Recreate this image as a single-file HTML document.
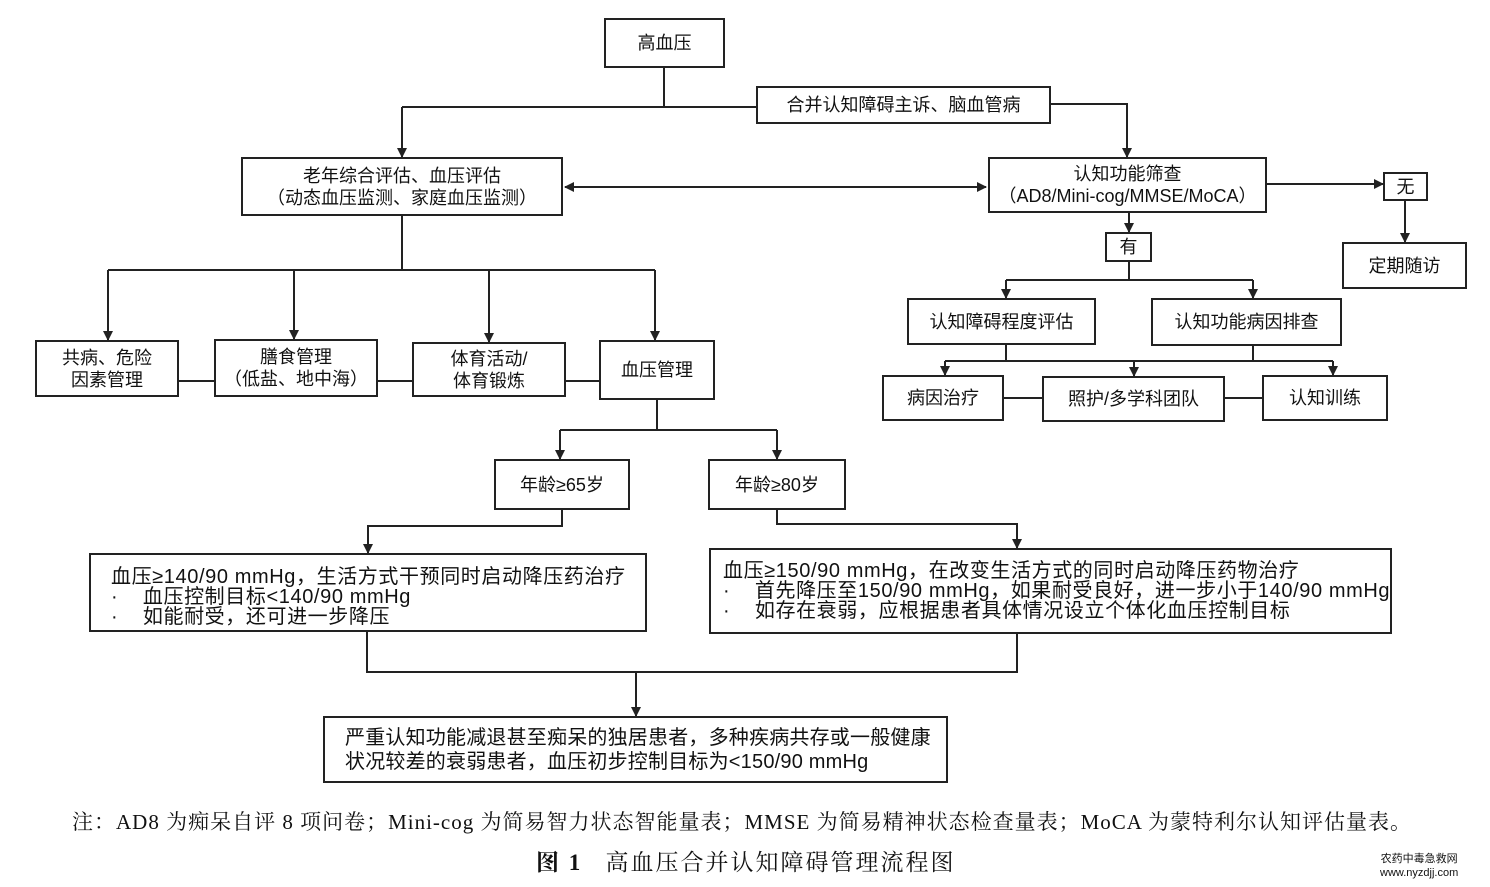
<!DOCTYPE html>
<html><head><meta charset="utf-8"><style>
body{margin:0;width:1490px;height:887px;background:#fff;position:relative;overflow:hidden;font-family:"Liberation Sans","Noto Sans CJK SC",sans-serif;color:#111}
.b{position:absolute;border:2px solid #222;box-sizing:border-box;display:flex;align-items:center;justify-content:center;text-align:center;font-size:18px;line-height:22px}
.l{justify-content:flex-start;text-align:left;padding-left:20px;white-space:nowrap}
svg{position:absolute;left:0;top:0}
.t{position:absolute;font-family:"Liberation Serif","Noto Serif CJK SC",serif;white-space:nowrap}
</style></head><body>
<svg width="1490" height="887">
<defs><marker id="a" markerWidth="10" markerHeight="10" refX="9" refY="5" orient="auto-start-reverse" markerUnits="userSpaceOnUse"><path d="M0,0 L10,5 L0,10z" fill="#222"/></marker></defs>
<g stroke="#222" stroke-width="2" fill="none">
<path d="M664,68V107H758"/><path d="M402,107H664"/><path d="M402,107V157" marker-end="url(#a)"/>
<path d="M1051,104H1127V157" marker-end="url(#a)"/>
<path d="M565,187H986" marker-end="url(#a)" marker-start="url(#a)"/>
<path d="M1267,184H1383" marker-end="url(#a)"/>
<path d="M1405,201V242" marker-end="url(#a)"/>
<path d="M1129,213V232" marker-end="url(#a)"/>
<path d="M1129,262V280"/><path d="M1006,280H1253"/>
<path d="M1006,280V298" marker-end="url(#a)"/><path d="M1253,280V298" marker-end="url(#a)"/>
<path d="M1006,345V361"/><path d="M1253,346V361"/><path d="M945,361H1333"/>
<path d="M945,361V375" marker-end="url(#a)"/><path d="M1134,361V376" marker-end="url(#a)"/><path d="M1333,361V375" marker-end="url(#a)"/>
<path d="M1004,398H1042M1225,398H1262"/>
<path d="M402,216V270"/><path d="M108,270H655"/>
<path d="M108,270V340" marker-end="url(#a)"/><path d="M294,270V339" marker-end="url(#a)"/><path d="M489,270V342" marker-end="url(#a)"/><path d="M655,270V340" marker-end="url(#a)"/>
<path d="M179,381H214M378,381H412M566,381H599"/>
<path d="M657,400V430"/><path d="M560,430H777"/>
<path d="M560,430V459" marker-end="url(#a)"/><path d="M777,430V459" marker-end="url(#a)"/>
<path d="M562,510V526H368V553" marker-end="url(#a)"/>
<path d="M777,510V524H1017V548" marker-end="url(#a)"/>
<path d="M367,632V672H1017V634"/><path d="M636,672V716" marker-end="url(#a)"/>
</g></svg>
<div class="b" style="left:604px;top:18px;width:121px;height:50px">高血压</div>
<div class="b" style="left:756px;top:86px;width:295px;height:38px">合并认知障碍主诉、脑血管病</div>
<div class="b" style="left:241px;top:157px;width:322px;height:59px">老年综合评估、血压评估<br>（动态血压监测、家庭血压监测）</div>
<div class="b" style="left:988px;top:157px;width:279px;height:56px">认知功能筛查<br>（AD8/Mini-cog/MMSE/MoCA）</div>
<div class="b" style="left:1383px;top:172px;width:45px;height:29px">无</div>
<div class="b" style="left:1342px;top:242px;width:125px;height:47px">定期随访</div>
<div class="b" style="left:1105px;top:232px;width:47px;height:30px">有</div>
<div class="b" style="left:907px;top:298px;width:189px;height:47px">认知障碍程度评估</div>
<div class="b" style="left:1151px;top:298px;width:191px;height:48px">认知功能病因排查</div>
<div class="b" style="left:882px;top:375px;width:122px;height:46px">病因治疗</div>
<div class="b" style="left:1042px;top:376px;width:183px;height:46px">照护/多学科团队</div>
<div class="b" style="left:1262px;top:375px;width:126px;height:46px">认知训练</div>
<div class="b" style="left:35px;top:340px;width:144px;height:57px">共病、危险<br>因素管理</div>
<div class="b" style="left:214px;top:339px;width:164px;height:58px">膳食管理<br>（低盐、地中海）</div>
<div class="b" style="left:412px;top:342px;width:154px;height:55px">体育活动/<br>体育锻炼</div>
<div class="b" style="left:599px;top:340px;width:116px;height:60px">血压管理</div>
<div class="b" style="left:494px;top:459px;width:136px;height:51px">年龄≥65岁</div>
<div class="b" style="left:708px;top:459px;width:138px;height:51px">年龄≥80岁</div>
<div class="b l" style="left:89px;top:553px;width:558px;height:79px;font-size:20px;line-height:20px;letter-spacing:0.6px;padding-top:8px">血压≥140/90 mmHg，生活方式干预同时启动降压药治疗<br>·&nbsp;&nbsp;&nbsp;&nbsp;血压控制目标&lt;140/90 mmHg<br>·&nbsp;&nbsp;&nbsp;&nbsp;如能耐受，还可进一步降压</div>
<div class="b l" style="left:709px;top:548px;width:683px;height:86px;padding-left:12px;font-size:20px;line-height:20px;letter-spacing:0.6px">血压≥150/90 mmHg，在改变生活方式的同时启动降压药物治疗<br>·&nbsp;&nbsp;&nbsp;&nbsp;首先降压至150/90 mmHg，如果耐受良好，进一步小于140/90 mmHg<br>·&nbsp;&nbsp;&nbsp;&nbsp;如存在衰弱，应根据患者具体情况设立个体化血压控制目标</div>
<div class="b l" style="left:323px;top:716px;width:625px;height:67px;font-size:20px;line-height:24px;letter-spacing:0.2px">严重认知功能减退甚至痴呆的独居患者，多种疾病共存或一般健康<br>状况较差的衰弱患者，血压初步控制目标为&lt;150/90 mmHg</div>
<div class="t" style="left:72px;top:806px;font-size:21px;letter-spacing:1px">注：AD8 为痴呆自评 8 项问卷；Mini-cog 为简易智力状态智能量表；MMSE 为简易精神状态检查量表；MoCA 为蒙特利尔认知评估量表。</div>
<div class="t" style="left:536px;top:844px;font-size:23px;letter-spacing:2px"><b>图 1</b>&nbsp;&nbsp;&nbsp;高血压合并认知障碍管理流程图</div>
<div class="t" style="left:1380px;top:852px;font-size:11px;line-height:14px;text-align:center;font-family:'Liberation Sans','Noto Sans CJK SC',sans-serif">农药中毒急救网<br>www.nyzdjj.com</div>
</body></html>
